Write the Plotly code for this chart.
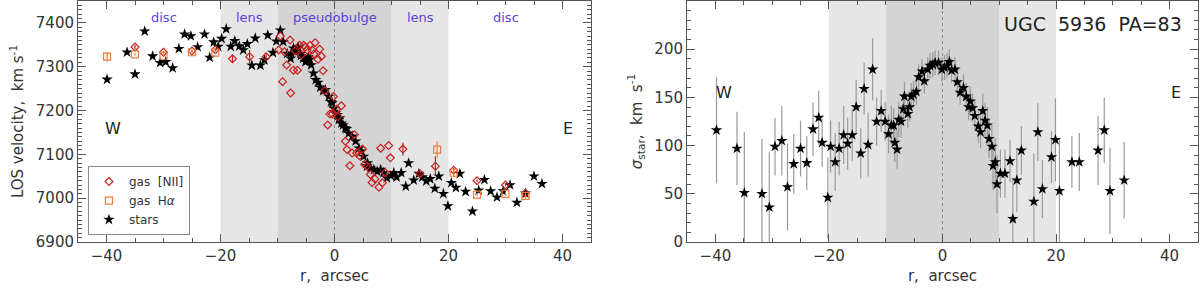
import plotly.graph_objects as go

# ---------------- data: left panel (LOS velocity) ----------------
r_stars_v = [-39.9, -36.4, -35.0, -33.3, -31.9, -30.6, -29.6, -28.4, -27.3, -26.3,
             -25.2, -24.0, -22.8, -21.9, -21.2, -20.4, -19.8, -19.0, -18.2, -17.5,
             -16.7, -16.0, -15.3, -14.5, -13.9, -13.0, -12.3, -11.7, -10.8, -10.2,
             -9.5, -9.0, -8.3, -7.7, -7.6, -7.2, -6.8, -6.4, -6.0, -5.9,
             -5.5, -5.1, -4.8, -4.6, -4.3, -4.1, -3.7, -3.3, -2.9, -2.5,
             -2.0, -1.6, -1.0, -0.6, -0.4, -0.1, 0.2, 0.5, 0.75, 0.9,
             1.2, 1.5, 1.9, 2.1, 2.5, 3.1, 3.7, 4.3, 4.7, 5.1,
             5.7, 5.8, 6.3, 6.9, 7.5, 8.1, 8.6, 9.2, 9.9, 10.4,
             10.9, 11.7, 12.5, 13.0, 13.9, 14.8, 15.4, 16.1, 16.8, 17.6,
             18.3, 19.1, 19.9, 20.5, 21.3, 22.0, 23.0, 24.2, 25.3, 26.3,
             27.4, 28.5, 29.6, 30.8, 32.0, 33.5, 35.0, 36.4]
v_stars = [7271, 7333, 7283, 7381, 7324, 7309, 7311, 7297, 7341, 7374,
           7370, 7345, 7374, 7321, 7356, 7346, 7364, 7386, 7346, 7359,
           7347, 7338, 7352, 7303, 7365, 7303, 7315, 7372, 7332, 7358,
           7383, 7357, 7330, 7319, 7330, 7342, 7336, 7345, 7330, 7325,
           7319, 7311, 7315, 7322, 7317, 7304, 7285, 7270, 7264, 7253,
           7245, 7247, 7232, 7220, 7217, 7205, 7194, 7190, 7179, 7183,
           7171, 7167, 7160, 7158, 7148, 7141, 7130, 7114, 7107, 7095,
           7073, 7080, 7069, 7065, 7061, 7065, 7058, 7046, 7051, 7058,
           7048, 7058, 7027, 7080, 7041, 7056, 7048, 7039, 7044, 7022,
           7050, 7010, 6982, 7035, 7024, 7056, 7015, 6970, 7018, 7042,
           7016, 7002, 7016, 7030, 6990, 7011, 7050, 7033]

r_nii = [-35.0, -30.0, -25.0, -20.9, -17.9, -14.9, -12.0, -9.8, -9.5, -9.1,
         -8.8, -8.4, -7.8, -7.7, -7.2, -6.9, -6.5, -6.1, -5.8, -5.4,
         -5.1, -4.8, -4.3, -3.9, -3.6, -3.4, -2.9, -2.6, -2.3, -2.0,
         -1.7, -1.2, -0.8, -0.4, -0.2, 0.35, 0.6, 1.2, 1.9, 2.2,
         2.7, 3.1, 3.5, 3.9, 4.4, 4.9, 5.3, 5.7, 6.3, 6.6,
         7.1, 7.8, 8.1, 8.4, 8.9, 9.5, 9.8, 12.0, 15.0, 17.7,
         20.9, 25.0, 30.0, 33.5]
v_nii = [7345, 7333, 7336, 7339, 7318, 7323, 7323, 7338, 7370, 7266,
         7334, 7304, 7361, 7240, 7292, 7336, 7292, 7349, 7327, 7349,
         7345, 7338, 7349, 7338, 7329, 7355, 7317, 7340, 7324, 7291,
         7245, 7167, 7192, 7192, 7232, 7203, 7186, 7211, 7130, 7111,
         7074, 7103, 7145, 7103, 7097, 7112, 7077, 7073, 7054, 7036,
         7044, 7025, 7114, 7035, 7058, 7120, 7092, 7112, 7056, 7073,
         7064, 7040, 7030, 7012]
e_nii = [5, 3, 3, 3, 9, 15, 6, 0, 0, 0,
         0, 0, 0, 0, 0, 0, 0, 0, 0, 0,
         0, 0, 0, 0, 0, 0, 0, 0, 0, 0,
         0, 0, 0, 0, 0, 0, 0, 0, 0, 0,
         0, 0, 0, 0, 0, 0, 0, 0, 0, 0,
         0, 0, 0, 0, 0, 0, 0, 15, 4, 22,
         5, 3, 3, 3]

r_ha = [-39.9, -35.0, -30.0, -25.0, -20.9, 18.0, 20.9, 25.0, 30.0, 33.5]
v_ha = [7323, 7328, 7325, 7333, 7332, 7111, 7058, 7008, 7010, 7005]
e_ha = [11, 3, 3, 3, 3, 19, 9, 3, 3, 6]

# ---------------- data: right panel (velocity dispersion) ----------------
r_sig = [-39.8, -36.2, -34.9, -31.8, -30.5, -29.5, -28.3, -27.3, -26.2, -25.0,
         -23.9, -22.8, -21.8, -21.2, -20.2, -19.7, -18.9, -18.2, -17.4, -16.7,
         -15.9, -15.2, -14.4, -13.8, -13.1, -12.3, -11.6, -10.8, -10.1, -9.5,
         -9.0, -8.6, -8.4, -8.0, -7.7, -7.3, -6.9, -6.7, -6.1, -5.8,
         -5.5, -5.1, -4.6, -4.2, -3.6, -3.2, -2.6, -2.2, -1.7, -1.3,
         -0.7, -0.1, 0.35, 0.8, 1.2, 1.6, 2.2, 2.6, 3.1, 3.7,
         4.2, 4.6, 4.9, 5.3, 5.7, 6.3, 6.7, 7.1, 7.5, 7.9,
         8.2, 8.7, 8.9, 9.3, 9.6, 10.2, 11.0, 11.9, 12.4, 13.1,
         13.9, 16.1, 16.8, 17.6, 19.2, 19.9, 20.6, 22.8, 24.1, 27.4,
         28.5, 29.5, 32.0]
sigma = [116, 97, 51, 50, 36, 99, 105, 57, 81, 97,
         82, 117, 129, 103, 46, 99, 83, 97, 111, 102,
         111, 140, 92, 159, 101, 179, 125, 136, 125, 112,
         121, 121, 103, 96, 127, 125, 138, 151, 133, 140,
         151, 153, 156, 171, 177, 167, 179, 183, 184, 186,
         186, 179, 181, 183, 187, 178, 179, 166, 155, 160,
         151, 140, 146, 139, 131, 120, 114, 136, 126, 121,
         107, 99, 79, 83, 60, 71, 71, 84, 24, 64,
         95, 42, 114, 55, 88, 106, 53, 83, 83, 95,
         116, 53, 64]
sigma_err = [55, 38, 63, 57, 57, 30, 36, 45, 31, 29,
             28, 28, 28, 25, 42, 27, 30, 28, 30, 27,
             27, 28, 26, 27, 33, 32, 25, 22, 20, 20,
             20, 18, 20, 20, 18, 17, 16, 15, 15, 15,
             14, 14, 14, 13, 13, 13, 13, 13, 13, 13,
             13, 13, 13, 13, 13, 13, 13, 13, 13, 14,
             14, 14, 15, 15, 16, 17, 17, 18, 18, 19,
             20, 22, 25, 25, 30, 25, 25, 22, 40, 33,
             25, 50, 30, 30, 27, 43, 55, 27, 30, 36,
             34, 45, 40]

region_labels = ["disc", "lens", "pseudobulge", "lens", "disc"]
region_centers = [-30, -15, 0, 15, 30]

assert len(r_stars_v) == len(v_stars)
assert len(r_nii) == len(v_nii) == len(e_nii)
assert len(r_sig) == len(sigma) == len(sigma_err)

FONT = "DejaVu Sans"
TXT = "#333333"
RED = "#c8201e"
ORANGE = "#f07a3a"
BLUE = "#5b3fe0"
AX = "#555555"

fig = go.Figure()

fig.add_trace(go.Scatter(
    x=r_stars_v, y=v_stars, mode="markers", name="stars",
    marker=dict(symbol="star", size=8.5, color="black", line=dict(width=0)),
    xaxis="x", yaxis="y", legendrank=3))
fig.add_trace(go.Scatter(
    x=r_nii, y=v_nii, mode="markers", name="gas  [NII]",
    marker=dict(symbol="diamond-open", size=6, color=RED, line=dict(width=1.2, color=RED)),
    error_y=dict(type="data", array=e_nii, color=RED, thickness=1.2, width=0),
    xaxis="x", yaxis="y", legendrank=1))
fig.add_trace(go.Scatter(
    x=r_ha, y=v_ha, mode="markers", name="gas  H<i>α</i>",
    marker=dict(symbol="square-open", size=7, color=ORANGE, line=dict(width=1.2, color=ORANGE)),
    error_y=dict(type="data", array=e_ha, color=ORANGE, thickness=1.2, width=0),
    xaxis="x", yaxis="y", legendrank=2))
fig.add_trace(go.Scatter(
    x=r_sig, y=sigma, mode="markers", showlegend=False,
    marker=dict(symbol="star", size=8.5, color="black", line=dict(width=0)),
    error_y=dict(type="data", array=sigma_err, color="#9a9a9a", thickness=1.2, width=0),
    xaxis="x2", yaxis="y2"))

shapes = []
for xr, yr in [("x", "y domain"), ("x2", "y2 domain")]:
    for a, b, c in [(-20, -10, "#e6e6e6"), (10, 20, "#e6e6e6"), (-10, 10, "#d4d4d4")]:
        shapes.append(dict(type="rect", xref=xr, yref=yr, x0=a, x1=b, y0=0, y1=1,
                           fillcolor=c, line=dict(width=0), layer="below"))
    shapes.append(dict(type="line", xref=xr, yref=yr, x0=0, x1=0, y0=0, y1=1,
                       line=dict(color="#8a8a8a", width=1, dash="dot"), layer="below"))

annotations = []
for lab, xc in zip(region_labels, region_centers):
    annotations.append(dict(x=xc, y=7413, xref="x", yref="y", text=lab, showarrow=False,
                            font=dict(family=FONT, size=13, color=BLUE)))
annotations += [
    dict(x=-38.8, y=7160, xref="x", yref="y", text="W", showarrow=False,
         font=dict(family=FONT, size=16, color="#222")),
    dict(x=40.9, y=7160, xref="x", yref="y", text="E", showarrow=False,
         font=dict(family=FONT, size=16, color="#222")),
    dict(x=-38.5, y=155, xref="x2", yref="y2", text="W", showarrow=False,
         font=dict(family=FONT, size=16, color="#222")),
    dict(x=41.1, y=155, xref="x2", yref="y2", text="E", showarrow=False,
         font=dict(family=FONT, size=16, color="#222")),
    dict(x=42.5, y=226, xref="x2", yref="y2", text="UGC  5936  PA=83", showarrow=False,
         xanchor="right", font=dict(family=FONT, size=19, color="#222")),
]

def xax(domain, anchor):
    return dict(domain=domain, anchor=anchor, range=[-45, 45], tick0=0, dtick=20,
                ticks="inside", ticklen=8, tickcolor=AX, showline=True, linecolor=AX,
                linewidth=1, mirror="ticks", showgrid=False, zeroline=False,
                minor=dict(dtick=5, tick0=0, ticks="inside", ticklen=4, tickcolor=AX),
                tickfont=dict(family=FONT, size=15, color=TXT),
                title=dict(text="r,  arcsec", font=dict(family=FONT, size=15, color=TXT), standoff=6))

def yax(rng, dtick, anchor, title):
    return dict(domain=[0, 1], anchor=anchor, range=rng, tick0=0, dtick=dtick,
                ticks="inside", ticklen=8, tickcolor=AX, showline=True, linecolor=AX,
                linewidth=1, mirror="ticks", showgrid=False, zeroline=False,
                minor=dict(dtick=10, ticks="inside", ticklen=4, tickcolor=AX),
                tickfont=dict(family=FONT, size=15, color=TXT),
                title=dict(text=title, font=dict(family=FONT, size=15, color=TXT), standoff=8))

fig.update_layout(
    width=1200, height=290,
    margin=dict(l=0, r=0, t=1, b=48),
    paper_bgcolor="white", plot_bgcolor="white",
    font=dict(family=FONT, color=TXT),
    xaxis=xax([0.065, 0.4925], "y"),
    yaxis=yax([6900, 7450], 100, "x", "LOS velocity,  km s<sup>-1</sup>"),
    xaxis2=xax([0.5725, 0.9983], "y2"),
    yaxis2=yax([0, 250], 50, "x2", "<i>σ</i><sub>star</sub>,  km  s<sup>-1</sup>"),
    shapes=shapes, annotations=annotations,
    showlegend=True,
    legend=dict(x=0.0733, y=0.315, xanchor="left", yanchor="top",
                bgcolor="white", bordercolor="#888888", borderwidth=1,
                font=dict(family=FONT, size=12, color=TXT),
                itemwidth=30, tracegroupgap=0),
)

fig.write_html("out.html", config={"displayModeBar": False},
               post_script="document.body.style.margin='0px';document.body.style.overflow='hidden';")
